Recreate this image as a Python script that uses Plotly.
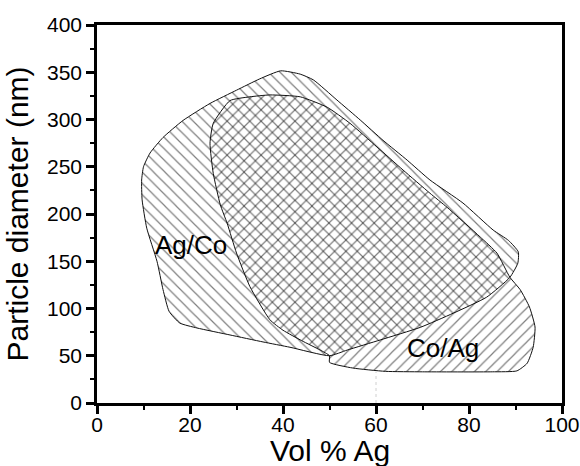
import plotly.graph_objects as go

# Ag/Co region outline (Vol % Ag, particle diameter nm)
agco_x = [50, 41.5, 35.7, 28.6, 21.5, 17.8, 15.5, 14.2, 12.9, 10.7, 9.7, 9.6, 10.0, 11.4, 14.2, 18.5, 24.3, 30.0, 35.0, 39.5, 43.7, 46.5, 51.6, 56.6, 61.5, 66.7, 71.6, 78.7, 85.2, 88.5, 90.6, 90.5, 88.8, 83.8, 76.6, 69.5, 60.9, 53.8, 50]
agco_y = [50, 59, 64.6, 72, 79.4, 84.6, 97, 120, 150, 185, 215, 236, 250, 264.5, 281, 299, 317, 331, 343, 351.5, 348, 342, 320.6, 299.5, 278, 257, 236, 211.6, 183, 172, 160, 148, 133, 112, 95, 80, 66.7, 56, 50]

# Co/Ag region outline
coag_x = [50, 50, 48, 44, 40, 37.2, 32.9, 30.0, 28.0, 26.5, 25.0, 24.3, 25.0, 28.6, 32.9, 37.2, 43.7, 49.5, 54.4, 60.2, 65.8, 71.6, 75.3, 82.4, 86.0, 88.8, 91.0, 93.0, 94.2, 93.8, 92.5, 90.3, 85, 70, 62, 55, 50]
coag_y = [43, 50, 56, 66, 77, 88, 123, 158.7, 190, 210, 243, 275, 296, 320, 324, 326, 324, 313, 296, 271, 246.6, 222, 207, 175.7, 158.7, 133, 120, 101.6, 80.4, 59, 42, 34, 33, 33, 33.5, 37, 43]

labels = ["Ag/Co", "Co/Ag"]
label_x = [20.3, 74.5]
label_y = [167, 58]

x_ticks = [0, 20, 40, 60, 80, 100]
y_ticks = [0, 50, 100, 150, 200, 250, 300, 350, 400]

x_title = "Vol % Ag"
y_title = "Particle diameter (nm)"

FONT = "Arial, Liberation Sans, sans-serif"

fig = go.Figure()

fig.add_trace(go.Scatter(
    x=agco_x, y=agco_y, mode="lines", fill="toself",
    fillcolor="rgba(0,0,0,0)",
    line=dict(color="#111", width=1, shape="spline", smoothing=0.5),
    fillpattern=dict(shape="\\", size=8, solidity=0.15, fgcolor="#000", bgcolor="rgba(0,0,0,0)"),
    hoverinfo="skip", showlegend=False))

fig.add_trace(go.Scatter(
    x=coag_x, y=coag_y, mode="lines", fill="toself",
    fillcolor="rgba(0,0,0,0)",
    line=dict(color="#111", width=1, shape="spline", smoothing=0.5),
    fillpattern=dict(shape="/", size=8, solidity=0.15, fgcolor="#000", bgcolor="rgba(0,0,0,0)"),
    hoverinfo="skip", showlegend=False))

# faint dotted guide
fig.add_trace(go.Scatter(x=[60, 60], y=[0, 33], mode="lines",
                         line=dict(color="#d0d0d0", width=1, dash="dot"),
                         hoverinfo="skip", showlegend=False))

for t, x, y in zip(labels, label_x, label_y):
    fig.add_annotation(x=x, y=y, text=t, showarrow=False,
                       font=dict(family=FONT, size=26, color="black"))

# x-axis title as an annotation so it can sit close to the bottom edge
fig.add_annotation(x=0.5, xref="paper", y=-0.125, yref="paper", yanchor="middle",
                   text=x_title, showarrow=False,
                   font=dict(family=FONT, size=30, color="black"))

axis_common = dict(
    showgrid=False, zeroline=False, showline=True, linecolor="black", linewidth=2.5,
    mirror=True, ticks="outside", ticklen=8, tickwidth=2.5, tickcolor="black",
    tickfont=dict(family=FONT, size=21, color="black"), automargin=False,
)

fig.update_xaxes(range=[0, 100], tickvals=x_ticks, ticktext=[str(v) for v in x_ticks],
                 ticklabelstandoff=-7,
                 minor=dict(dtick=10, tick0=0, ticks="outside", ticklen=4, tickwidth=2, tickcolor="black"),
                 **axis_common)
fig.update_yaxes(range=[0, 400], tickvals=y_ticks, ticktext=[str(v) for v in y_ticks],
                 minor=dict(dtick=25, tick0=0, ticks="outside", ticklen=4, tickwidth=2, tickcolor="black"),
                 title=dict(text=y_title, font=dict(family=FONT, size=30, color="black"), standoff=10),
                 **axis_common)

fig.update_layout(width=580, height=466, margin=dict(l=97, r=18, t=25, b=63),
                  plot_bgcolor="white", paper_bgcolor="white")

fig.write_html("out.html")
